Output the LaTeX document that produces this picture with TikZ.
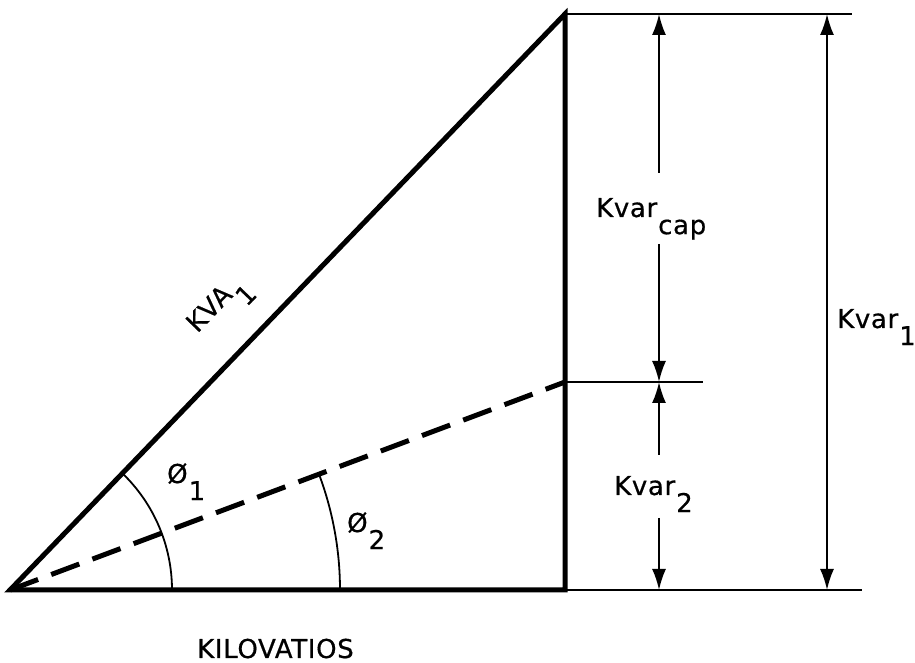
\documentclass[tikz,border=0pt]{standalone}
\usepackage{fontspec}
\usetikzlibrary{arrows.meta}
\newfontfamily\letterfont[LetterSpace=2.5, FakeBold=0.6]{DejaVu Sans}
\newcommand{\lowr}[1]{\kern1pt\raisebox{-0.66em}{#1}}

\begin{document}
\begin{tikzpicture}[x=1pt, y=1pt,
    heavy/.style={line width=5pt, line join=miter},
    guide/.style={line width=2pt},
    dimarrow/.style={line width=2pt, -{Latex[length=21pt,width=14pt]}},
    dimboth/.style={line width=2pt, {Latex[length=21pt,width=14pt]}-{Latex[length=21pt,width=14pt]}},
    lbl/.style={font=\letterfont\fontsize{26}{30}\selectfont, inner sep=0pt}
  ]
  \useasboundingbox (-10,-73) rectangle (905,590);
  % triangle corners
  \coordinate (O) at (0,0);
  \coordinate (B) at (555,0);
  \coordinate (T) at (555,576);
  \coordinate (M) at (555,208);
  % extension lines
  \coordinate (Bend) at (852,0);
  \coordinate (Tend) at (842,576);
  \coordinate (Mend) at (693,208);
  \draw[guide] (B) -- (Bend);
  \draw[guide] (T) -- (Tend);
  \draw[guide] (M) -- (Mend);

  \draw[heavy] (B) -- (O) -- (T) -- cycle;
  \draw[heavy, dash pattern=on 30pt off 14pt] (O) -- (M);

  % angles
  \draw[guide, line width=1.8pt] (162,0) arc[start angle=0, end angle=46.1, radius=162];
  \draw[guide, line width=1.8pt] (330,0) arc[start angle=0, end angle=20.5, radius=330];

  % dimension arrows
  \coordinate (capTop) at (649,576);
  \coordinate (capMid) at (649,208);
  \coordinate (capBot) at (649,0);
  \coordinate (gapA) at (649,417);
  \coordinate (gapB) at (649,346);
  \coordinate (gapC) at (649,135);
  \coordinate (gapD) at (649,72);
  \coordinate (oneTop) at (817,576);
  \coordinate (oneBot) at (817,0);
  \draw[dimarrow] (gapA) -- (capTop);
  \draw[dimarrow] (gapB) -- (capMid);
  \draw[dimarrow] (gapC) -- (capMid);
  \draw[dimarrow] (gapD) -- (capBot);
  \draw[dimboth] (oneTop) -- (oneBot);

  % labels
  \node[lbl, anchor=base west] (kvcap) at (586,373) {Kvar\lowr{cap}};
  \node[lbl, anchor=base west] (kvtwo) at (604,95) {Kvar\lowr{2}};
  \node[lbl, anchor=base west] (kvone) at (827,262) {Kvar\lowr{1}};
  \node[lbl, rotate=46] (kva) at (211,282) {KVA\lowr{1}};
  \node[lbl, anchor=base west] (phione) at (157,107) {Ø\lowr{1}};
  \node[lbl, anchor=base west] (phitwo) at (337,58) {Ø\lowr{2}};
  \node[lbl, anchor=base west] (kw) at (187,-68) {KILOVATIOS};
\end{tikzpicture}
\end{document}
